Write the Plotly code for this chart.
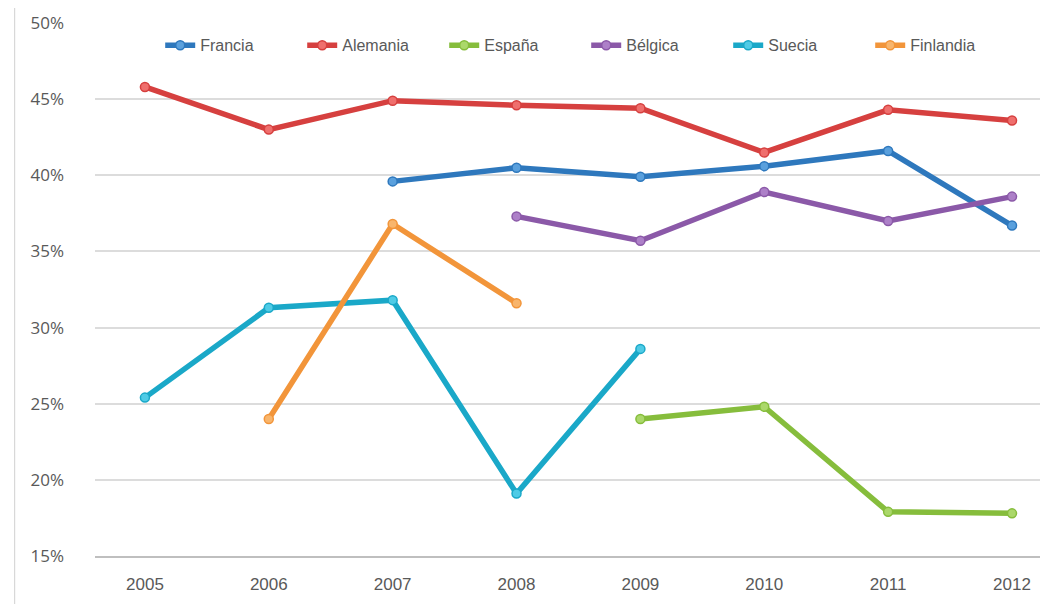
import plotly.graph_objects as go

years = [2005, 2006, 2007, 2008, 2009, 2010, 2011, 2012]

francia = [None, None, 39.6, 40.5, 39.9, 40.6, 41.6, 36.7]
alemania = [45.8, 43.0, 44.9, 44.6, 44.4, 41.5, 44.3, 43.6]
espana = [None, None, None, None, 24.0, 24.8, 17.9, 17.8]
belgica = [None, None, None, 37.3, 35.7, 38.9, 37.0, 38.6]
suecia = [25.4, 31.3, 31.8, 19.1, 28.6, None, None, None]
finlandia = [None, 24.0, 36.8, 31.6, None, None, None, None]

series = [
    ("Francia", francia, "#2e78bd", "#5aa0dd"),
    ("Alemania", alemania, "#d6403f", "#ef6f6d"),
    ("España", espana, "#86bd3c", "#abd86a"),
    ("Bélgica", belgica, "#8b59a8", "#ad80c8"),
    ("Suecia", suecia, "#1aa8c8", "#4fcbe6"),
    ("Finlandia", finlandia, "#f2953a", "#f8b56c"),
]

fig = go.Figure()
for name, vals, col, light in series:
    fig.add_trace(go.Scatter(
        x=years, y=vals, name=name, mode="lines+markers",
        line=dict(color=col, width=5.5),
        marker=dict(size=9, color=light, line=dict(color=col, width=1.5)),
        connectgaps=False,
    ))

fig.update_layout(
    width=1048, height=604,
    margin=dict(l=87, r=16, t=15, b=56, autoexpand=False),
    paper_bgcolor="white", plot_bgcolor="white",
    font=dict(family="Liberation Sans Narrow, Liberation Sans, sans-serif", color="#595959"),
    showlegend=True,
    legend=dict(orientation="h", x=0.069, xanchor="left", y=0.99, yanchor="top",
                font=dict(size=16, color="#595959"), bgcolor="rgba(0,0,0,0)",
                itemwidth=30, entrywidth=97, entrywidthmode="pixels", tracegroupgap=0),
    xaxis=dict(range=[2004.597, 2012.226], tickmode="array", tickvals=years,
               ticktext=[str(y) for y in years], showgrid=False, zeroline=False,
               showline=True, linecolor="#bfbfbf", linewidth=2, automargin=False,
               tickfont=dict(size=17, color="#595959"), ticks="", ticklen=0,
               ticklabelstandoff=12),
    yaxis=dict(range=[15, 50], dtick=5, ticksuffix="%", showgrid=True, automargin=False,
               gridcolor="#dcdcdc", gridwidth=1.5, zeroline=False, showline=False,
               tickfont=dict(size=17, color="#595959", family="Open Sans, sans-serif"),
               ticks="", ticklabelstandoff=30),
)

fig.add_shape(type="line", xref="paper", yref="paper", x0=-0.085, x1=-0.085, y0=-0.2, y1=1.1,
              line=dict(color="#d0d0d0", width=1))

fig.write_html("out.html")
